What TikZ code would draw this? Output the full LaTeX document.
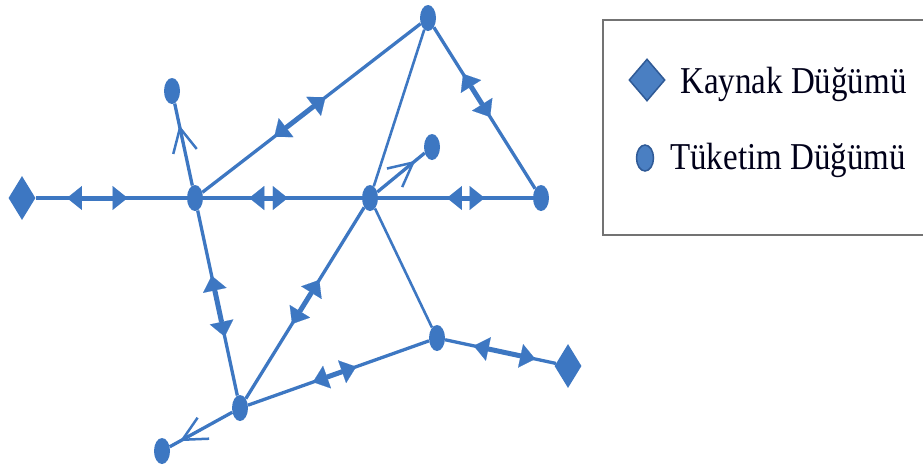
\documentclass[tikz,border=0pt]{standalone}
\usepackage{fontspec}
\setmainfont{Liberation Serif}
\usetikzlibrary{shapes.geometric, arrows.meta, calc}
\definecolor{nb}{HTML}{3D77C2}
\definecolor{legblue}{HTML}{4A7FC2}
\definecolor{legedge}{HTML}{2F5A96}
\begin{document}
\begin{tikzpicture}[x=1pt,y=-1pt,
  edge/.style={draw=nb, line width=3.3pt},
  thinedge/.style={draw=nb, line width=2.6pt},
  dbl/.style={draw=nb, line width=5pt,
    {Triangle[length=15pt,width=24pt,line width=0.1pt]}-{Triangle[length=15pt,width=24pt,line width=0.1pt]}},
  barb/.style={draw=nb, line width=2.5pt, -{Straight Barb[length=24pt,width=24pt]}},
  cons/.style={ellipse, fill=nb, minimum width=16pt, minimum height=26pt, inner sep=0pt},
  src/.style={diamond, fill=nb, minimum width=27pt, minimum height=44pt, inner sep=0pt},
  legtext/.style={anchor=base west, inner sep=0pt, text=black!90!blue, font=\fontsize{33}{40}\selectfont},
  legbox/.style={draw=black!55, line width=2.2pt}
]
\useasboundingbox (0,0) rectangle (923,475);
% nodes
\node[src] (S1) at (22,198) {};
\node[cons] (A) at (195,198) {};
\node[cons] (B) at (370,198) {};
\node[cons] (C) at (541,198) {};
\node[cons] (T) at (428,18) {};
\node[cons] (D) at (172,91) {};
\node[cons] (E) at (432,147) {};
\node[cons] (F) at (437,338) {};
\node[cons] (G) at (240,408) {};
\node[cons] (H) at (162,451) {};
\node[src] (S2) at (568,366) {};
% edges
\draw[edge] (S1) -- (A);
\draw[dbl] ($(S1)!0.26!(A)$) -- ($(S1)!0.61!(A)$);
\draw[edge] (A) -- (B);
\draw[dbl] ($(A)!0.31!(B)$) -- ($(A)!0.53!(B)$);
\draw[edge] (B) -- (C);
\draw[dbl] ($(B)!0.45!(C)$) -- ($(B)!0.67!(C)$);
\draw[edge] (A) -- (T);
\draw[dbl] ($(A)!0.34!(T)$) -- ($(A)!0.56!(T)$);
\draw[edge] (T) -- (C);
\draw[dbl] ($(T)!0.31!(C)$) -- ($(T)!0.55!(C)$);
\draw[thinedge] (T) -- (B);
\draw[edge] (A) -- (D);
\draw[barb] ($(A)!0.5!(D)$) -- ($(A)!0.68!(D)$);
\draw[edge] (B) -- (E);
\draw[barb] ($(B)!0.5!(E)$) -- ($(B)!0.73!(E)$);
\draw[edge] (A) -- (G);
\draw[dbl] ($(A)!0.37!(G)$) -- ($(A)!0.66!(G)$);
\draw[edge] (B) -- (G);
\draw[dbl] ($(B)!0.39!(G)$) -- ($(B)!0.60!(G)$);
\draw[thinedge] (B) -- (F);
\draw[edge] (G) -- (F);
\draw[dbl] ($(G)!0.37!(F)$) -- ($(G)!0.59!(F)$);
\draw[edge] (F) -- (S2);
\draw[dbl] ($(F)!0.28!(S2)$) -- ($(F)!0.75!(S2)$);
\draw[edge] (G) -- (H);
\draw[barb] ($(G)!0.5!(H)$) -- ($(G)!0.77!(H)$);
% legend
\coordinate (LT) at (923,20);
\coordinate (LB) at (923,235);
\draw[legbox] (LT) -| (603,235) -- (LB);
\node[diamond, fill=legblue, draw=legedge, line width=1.5pt, minimum width=36pt, minimum height=42pt, inner sep=0pt] (LS) at (647,80) {};
\node[ellipse, fill=legblue, draw=legedge, line width=1.5pt, minimum width=17pt, minimum height=26pt, inner sep=0pt] (LC) at (645,158) {};
\node[legtext] (LST) at (680,93) {\scalebox{1}[1.15]{Kaynak Düğümü}};
\node[legtext] (LCT) at (670,169) {\scalebox{1}[1.15]{Tüketim Düğümü}};
\end{tikzpicture}
\end{document}
